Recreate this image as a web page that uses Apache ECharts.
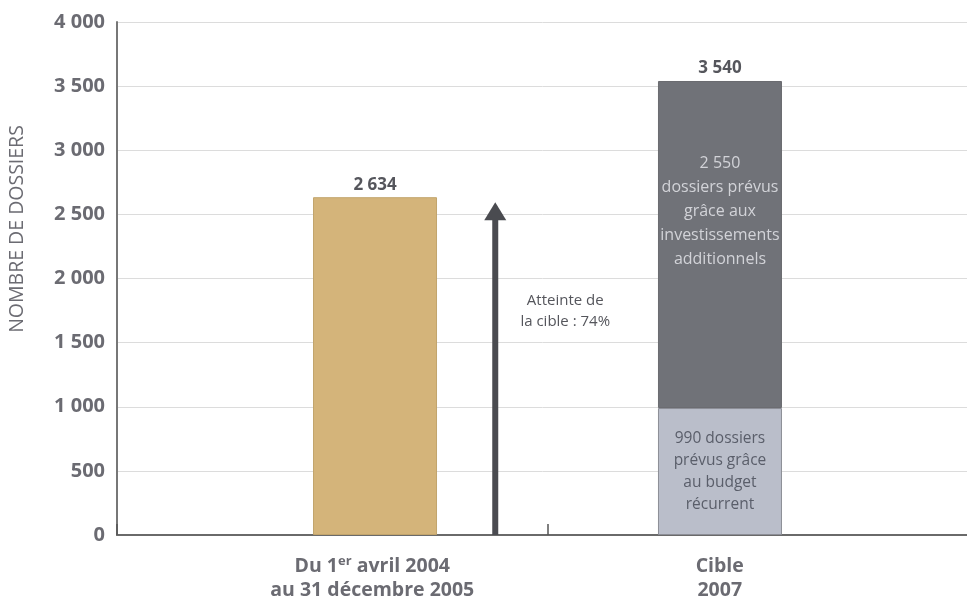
<!DOCTYPE html>
<html>
<head>
<meta charset="utf-8">
<script src="https://cdn.jsdelivr.net/npm/echarts@6/dist/echarts.min.js"></script>
<style>
html,body{margin:0;padding:0;background:#fff;}
#chart{width:967px;height:602px;}
</style>
</head>
<body>
<div id="chart"></div>
<script>
// ---- data ----
const categories = ['Du 1er avril 2004\nau 31 décembre 2005', 'Cible\n2007'];
const realise = [2634, '-'];          // dossiers traités (1er avril 2004 – 31 déc. 2005)
const budgetRecurrent = ['-', 990];   // cible 2007 : budget récurrent
const investissements = ['-', 2550];  // cible 2007 : investissements additionnels
const yTicks = [0, 500, 1000, 1500, 2000, 2500, 3000, 3500, 4000];
const yAxisTitle = 'NOMBRE DE DOSSIERS';
const arrowNote = 'Atteinte de\nla cible : 74%';
const segLabelTop = '2 550\ndossiers prévus\ngrâce aux\ninvestissements\nadditionnels';
const segLabelBottom = '990 dossiers\nprévus grâce\nau budget\nrécurrent';

const fmt = v => String(v).replace(/\B(?=(\d{3})+(?!\d))/g, ' ');
const total2007 = budgetRecurrent[1] + investissements[1];

const chart = echarts.init(document.getElementById('chart'), null, {renderer: 'canvas'});
const FONT = '"Open Sans"';
const GREY = '#6b6b72';

chart.setOption({
  animation: false,
  backgroundColor: '#fff',
  grid: {left: 117, width: 861, top: 22, bottom: 67, outerBoundsMode: 'none', containLabel: false},
  xAxis: {
    type: 'category',
    data: categories.map((c, i) => ({
      value: c,
      textStyle: {padding: i === 0 ? [0, 0, 0, 80] : [0, 86, 0, 0]}
    })),
    axisLine: {lineStyle: {color: '#6a6a6a', width: 2}},
    axisTick: {show: true, inside: true, length: 11, interval: 0, lineStyle: {color: '#555', width: 1.5}},
    axisLabel: {
      margin: 19,
      interval: 0,
      formatter: v => v.split('\n').map(line => '{b|' + line.replace('1er', '1}{sup|er}{b|') + '}').join('\n'),
      rich: {
        b: {fontFamily: FONT, fontWeight: 'bold', fontSize: 19.5, color: GREY, lineHeight: 24},
        sup: {fontFamily: FONT, fontWeight: 'bold', fontSize: 13, color: GREY, lineHeight: 14, padding: [0, 0, 10, 0]}
      }
    },
    splitLine: {show: false}
  },
  yAxis: {
    type: 'value',
    min: yTicks[0],
    max: yTicks[yTicks.length - 1],
    interval: yTicks[1] - yTicks[0],
    axisLine: {show: true, lineStyle: {color: '#777', width: 2}},
    axisTick: {show: false},
    axisLabel: {
      margin: 12,
      fontFamily: FONT, fontWeight: 'bold', fontSize: 20, color: GREY,
      formatter: v => fmt(v)
    },
    splitLine: {lineStyle: {color: '#dcdcdc', width: 1}}
  },
  series: [
    {
      name: 'Budget récurrent',
      type: 'bar',
      stack: 'cible',
      barWidth: 124,
      barGap: '-31%',
      data: budgetRecurrent,
      itemStyle: {color: '#babeca', borderColor: '#8c8e96', borderWidth: 1},
      label: {
        show: true, position: 'inside',
        formatter: () => segLabelBottom,
        fontFamily: FONT, fontSize: 15.5, color: '#5a5e6a', lineHeight: 22
      }
    },
    {
      name: 'Investissements additionnels',
      type: 'bar',
      stack: 'cible',
      barWidth: 124,
      data: investissements,
      itemStyle: {color: '#707278', borderColor: '#6a6b70', borderWidth: 1},
      label: {
        show: true, position: ['50%', 70], align: 'center', verticalAlign: 'top',
        formatter: () => segLabelTop,
        fontFamily: FONT, fontSize: 16, color: '#d2d3d8', lineHeight: 24
      }
    },
    {
      name: 'Total',
      type: 'bar',
      stack: 'cible',
      barWidth: 124,
      data: ['-', 0],
      itemStyle: {color: 'transparent'},
      label: {
        show: true, position: 'top', distance: 4,
        formatter: () => fmt(total2007),
        fontFamily: FONT, fontWeight: 'bold', fontSize: 17, color: '#55565c'
      }
    },
    {
      name: 'Réalisé',
      type: 'bar',
      barWidth: 124,
      data: realise,
      itemStyle: {color: '#d4b47a', borderColor: '#c2a46c', borderWidth: 1},
      label: {
        show: true, position: 'top', distance: 4,
        formatter: p => fmt(p.value),
        fontFamily: FONT, fontWeight: 'bold', fontSize: 17, color: '#55565c'
      }
    },
    {
      name: 'Atteinte',
      type: 'custom',
      data: [[0, realise[0]]],
      z: 5,
      renderItem: (params, api) => {
        const p0 = api.coord([api.value(0), 0]);
        const p1 = api.coord([api.value(0), api.value(1)]);
        const x = p0[0] + 163;
        const tip = p1[1] + 5;
        const headH = 18, headW = 11, shaft = 3;
        return {
          type: 'group',
          children: [
            {type: 'rect', shape: {x: x - shaft, y: tip + headH - 1, width: shaft * 2, height: p0[1] - tip - headH + 1},
             style: {fill: '#4a4b50'}},
            {type: 'polygon', shape: {points: [[x - headW, tip + headH], [x + headW, tip + headH], [x, tip]]},
             style: {fill: '#4a4b50'}},
            {type: 'text', x: x + 70, y: 311,
             style: {text: arrowNote, align: 'center', verticalAlign: 'middle',
                     fontFamily: FONT, fontSize: 15, fill: '#55565c', lineHeight: 21}}
          ]
        };
      }
    }
  ],
  graphic: [
    {type: 'text', x: 17, y: 229, rotation: Math.PI / 2,
     style: {text: yAxisTitle, align: 'center', verticalAlign: 'middle',
             fontFamily: FONT, fontSize: 19.5, fill: GREY}}
  ]
});
</script>
</body>
</html>
